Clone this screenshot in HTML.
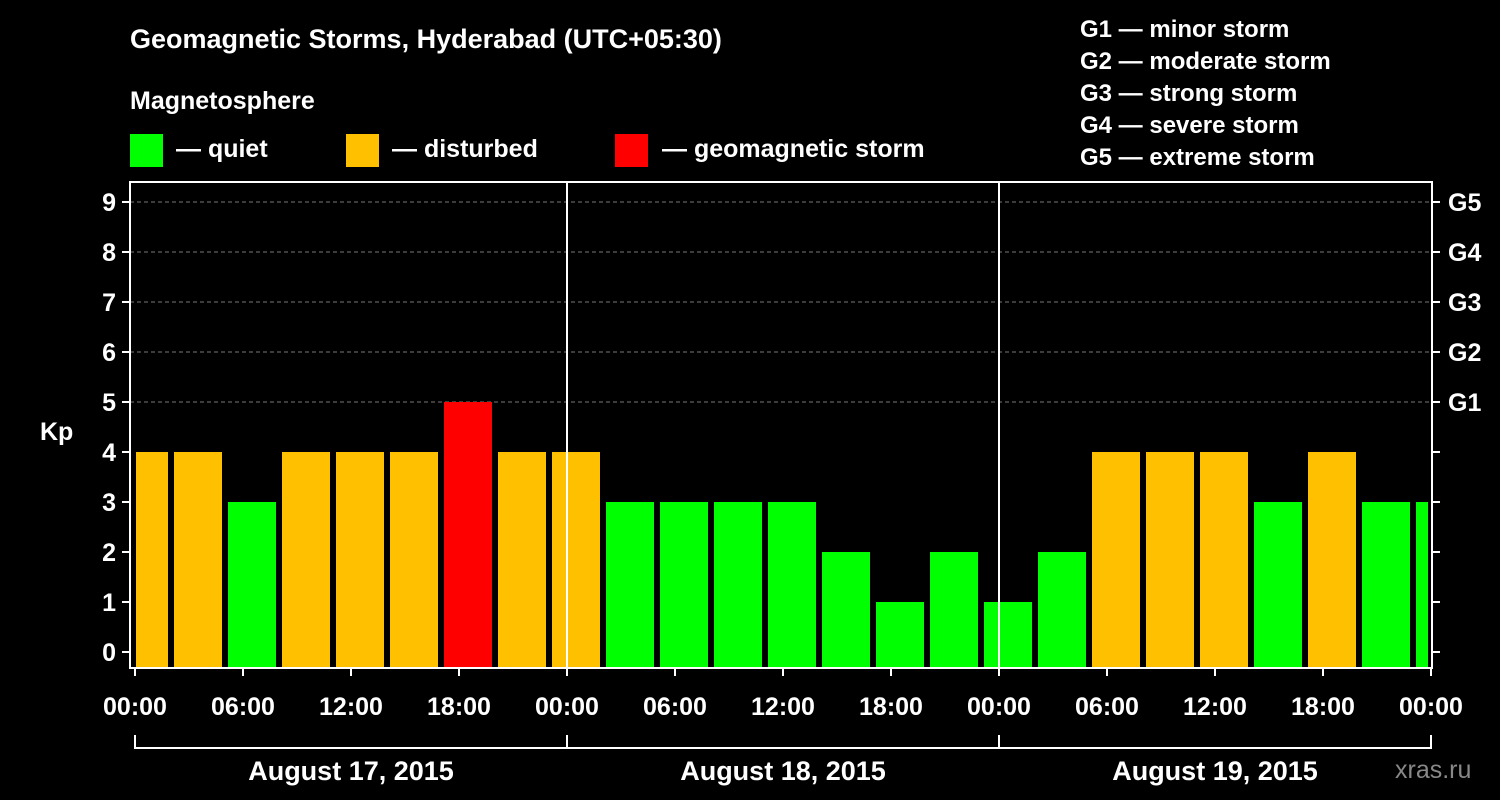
<!DOCTYPE html>
<html><head><meta charset="utf-8"><style>
body{margin:0;background:#000;}
svg{display:block;font-family:"Liberation Sans",Arial,sans-serif;font-weight:bold;}
</style></head><body>
<svg id="chart" width="1500" height="800" viewBox="0 0 1500 800">
<rect width="1500" height="800" fill="#000"/>
<text x="130" y="48" fill="#fff" font-size="27">Geomagnetic Storms, Hyderabad (UTC+05:30)</text>
<text x="130" y="109" fill="#fff" font-size="25">Magnetosphere</text>
<g><rect x="130" y="134" width="33" height="33" fill="#00ff00"/><text x="176" y="157" fill="#fff" font-size="25">— quiet</text></g>
<g><rect x="346" y="134" width="33" height="33" fill="#ffc000"/><text x="392" y="157" fill="#fff" font-size="25">— disturbed</text></g>
<g><rect x="615" y="134" width="33" height="33" fill="#ff0000"/><text x="662" y="157" fill="#fff" font-size="25">— geomagnetic storm</text></g>
<g fill="#fff" font-size="24">
<text x="1080" y="37">G1 — minor storm</text>
<text x="1080" y="69">G2 — moderate storm</text>
<text x="1080" y="101">G3 — strong storm</text>
<text x="1080" y="133">G4 — severe storm</text>
<text x="1080" y="165">G5 — extreme storm</text>
</g>
<text x="40" y="440" fill="#fff" font-size="25">Kp</text>
<text x="1395" y="778" fill="#888" font-size="25" font-weight="normal">xras.ru</text>
<g id="grid"></g><g id="bars"></g><g id="axes"></g>
</svg>
<script>
const kpValues=[4,4,3,4,4,4,5,4,4,3,3,3,3,2,1,2,1,2,4,4,4,3,4,3,3];
const yTicks=[0,1,2,3,4,5,6,7,8,9];
const gLabels=["G1","G2","G3","G4","G5"];
const xTickLabels=["00:00","06:00","12:00","18:00","00:00","06:00","12:00","18:00","00:00","06:00","12:00","18:00","00:00"];
const dayLabels=["August 17, 2015","August 18, 2015","August 19, 2015"];
const NS="http://www.w3.org/2000/svg";
const L=130,R=1432,T=182,B=668,X0=135,HR=18;
const y=v=>652-50*v;
const x=h=>X0+HR*h;
function mk(tag,attrs,parent,text){const e=document.createElementNS(NS,tag);for(const k in attrs)e.setAttribute(k,attrs[k]);if(text!==undefined)e.textContent=text;parent.appendChild(e);return e;}
const grid=document.getElementById('grid'),bars=document.getElementById('bars'),axes=document.getElementById('axes');
for(let v=5;v<=9;v++){const l=mk('line',{x1:L,x2:R,y1:y(v),y2:y(v),stroke:'#777','stroke-dasharray':'4,3','stroke-width':1},grid);

}
kpValues.forEach((v,i)=>{
  let x1=x(2.1667+3*(i-1)),x2=x1+48;
  x1=Math.max(x1,L+6);x2=Math.min(x2,R-4);
  const c=v>=5?'#ff0000':(v==4?'#ffc000':'#00ff00');
  const r=mk('rect',{x:x1,y:y(v),width:x2-x1,height:B-y(v),fill:c},bars);
  
  
});
mk('rect',{x:L,y:T,width:R-L,height:B-T,fill:'none',stroke:'#fff','stroke-width':2},axes);
[24,48].forEach(h=>{const l=mk('line',{x1:x(h),x2:x(h),y1:T,y2:B,stroke:'#fff','stroke-width':2},axes);

});
yTicks.forEach(v=>{
  mk('line',{x1:L-8,x2:L,y1:y(v),y2:y(v),stroke:'#fff','stroke-width':2},axes);
  mk('line',{x1:R,x2:R+8,y1:y(v),y2:y(v),stroke:'#fff','stroke-width':2},axes);
  const t=mk('text',{x:L-14,y:y(v)+9,fill:'#fff','font-size':25,'text-anchor':'end'},axes,String(v));
  
  
});
gLabels.forEach((g,i)=>{const t=mk('text',{x:R+16,y:y(5+i)+9,fill:'#fff','font-size':25},axes,g);

});
xTickLabels.forEach((s,i)=>{
  mk('line',{x1:x(6*i),x2:x(6*i),y1:B,y2:B+8,stroke:'#fff','stroke-width':2},axes);
  const t=mk('text',{x:x(6*i),y:715,fill:'#fff','font-size':25,'text-anchor':'middle'},axes,s);
  
  
});
mk('line',{x1:x(0),x2:x(72),y1:748,y2:748,stroke:'#fff','stroke-width':2},axes);
[0,24,48,72].forEach(h=>mk('line',{x1:x(h),x2:x(h),y1:735,y2:749,stroke:'#fff','stroke-width':2},axes));
dayLabels.forEach((d,i)=>{const t=mk('text',{x:x(24*i+12),y:780,fill:'#fff','font-size':27,'text-anchor':'middle'},axes,d);

});
</script>
</body></html>
